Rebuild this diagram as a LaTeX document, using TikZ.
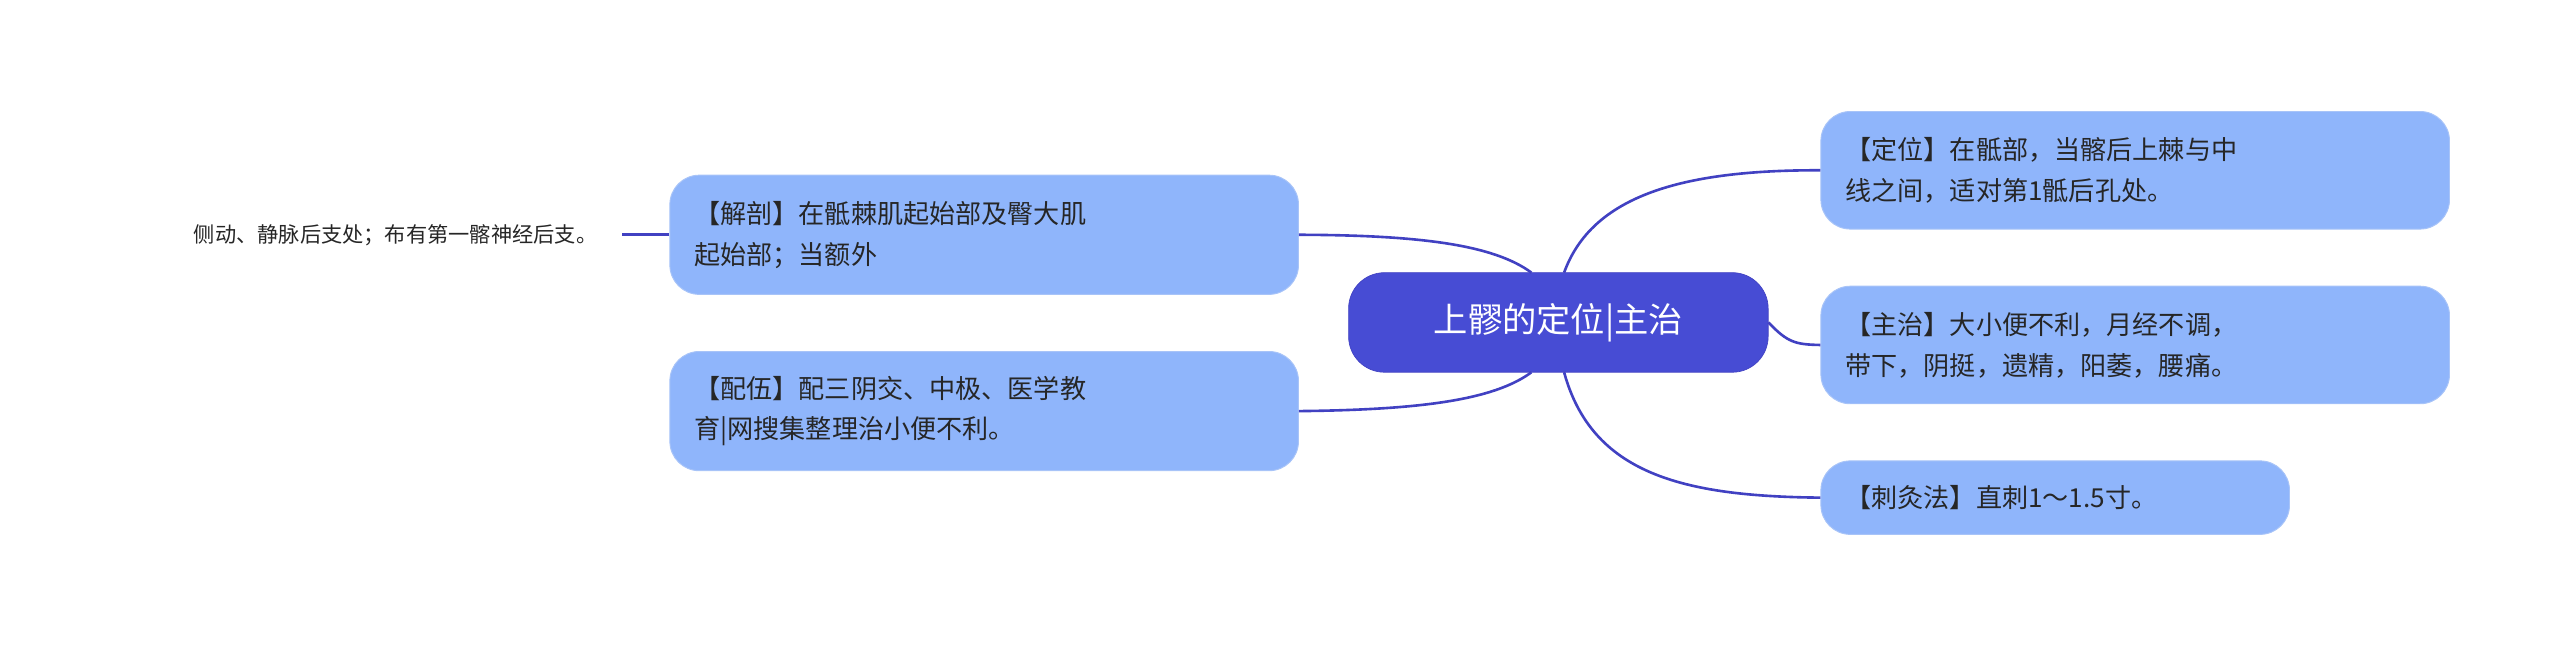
\documentclass[tikz,border=0pt]{standalone}
\usepackage{fontspec}
\setmainfont{Noto Sans CJK SC}
\begin{document}
\begin{tikzpicture}[x=1pt,y=-1pt,
  leaf/.style={fill=leafblue,draw=leafedge,line width=0.6pt,rounded corners=18pt,align=left,anchor=north west,font=\fontsize{16}{25}\selectfont,inner xsep=14pt,text=black!85},
  conn/.style={draw=linec,line width=1.6pt}]
\definecolor{leafblue}{HTML}{8FB5FB}
\definecolor{leafedge}{HTML}{A8C4F8}
\definecolor{centerc}{HTML}{474CD4}
\definecolor{linec}{HTML}{4141C2}
\useasboundingbox (0,0) rectangle (1568,396);
\node[fill=centerc,draw=linec,rounded corners=22pt,minimum width=257pt,minimum height=61pt,text=white,font=\fontsize{21}{24}\selectfont] (c) at (954.5,197.5) {上髎的定位|主治};
\node[leaf,minimum width=385pt,minimum height=72pt,text width=355pt] (r1) at (1115,68) {【定位】在骶部，当髂后上棘与中\\线之间，适对第1骶后孔处。};
\node[leaf,minimum width=385pt,minimum height=72pt,text width=355pt] (r2) at (1115,175) {【主治】大小便不利，月经不调，\\带下，阴挺，遗精，阳萎，腰痛。};
\node[leaf,minimum width=287pt,minimum height=45pt,text width=257pt] (r3) at (1115,282) {【刺灸法】直刺1～1.5寸。};
\node[leaf,minimum width=385pt,minimum height=73pt,text width=355pt] (l1) at (410,107) {【解剖】在骶棘肌起始部及臀大肌\\起始部；当额外};
\node[leaf,minimum width=385pt,minimum height=73pt,text width=355pt] (l2) at (410,215) {【配伍】配三阴交、中极、医学教\\育|网搜集整理治小便不利。};
\node[anchor=east,font=\fontsize{13}{15}\selectfont,text=black!85,inner sep=0pt] (t) at (366,144) {侧动、静脉后支处；布有第一髂神经后支。};
\coordinate (ct) at (958,167);
\coordinate (cb) at (958,228);
\coordinate (cl) at (938,167);
\coordinate (clb) at (938,228);
\draw[conn] (ct) .. controls (975,120) and (1030,104) .. (r1.west);
\draw[conn] (c.east) .. controls (1095,210) and (1100,211) .. (r2.west);
\draw[conn] (cb) .. controls (975,290) and (1030,304) .. (r3.west);
\draw[conn] (cl) .. controls (915,150) and (870,144) .. (l1.east);
\draw[conn] (clb) .. controls (915,245) and (870,251) .. (l2.east);
\draw[conn] (l1.west) -- ++(-29,0);
\end{tikzpicture}
\end{document}
